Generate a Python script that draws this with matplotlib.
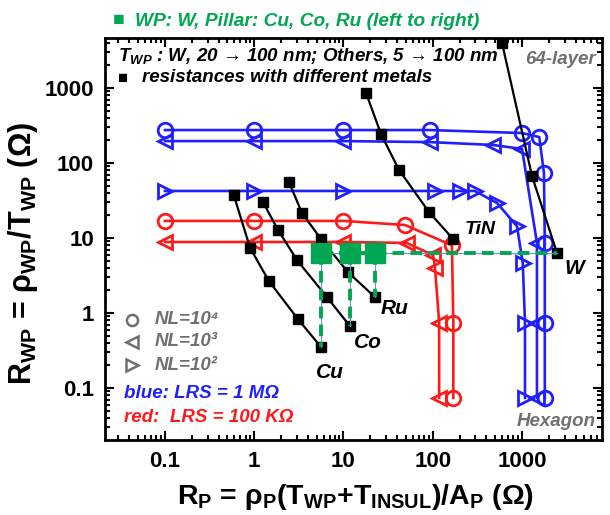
import matplotlib
matplotlib.use("Agg")
import matplotlib.pyplot as plt

plt.rcParams['font.family'] = ['Liberation Sans', 'DejaVu Sans']
plt.rcParams['mathtext.fontset'] = 'custom'
plt.rcParams['mathtext.rm'] = 'Liberation Sans:bold'
plt.rcParams['mathtext.it'] = 'Liberation Sans:bold:italic'
plt.rcParams['mathtext.bf'] = 'Liberation Sans:bold'

# ---------------- data ----------------
# black: R_WP vs R_P for different metals (T_WP sweep)
cu_x = [0.59, 0.90, 1.46, 3.09, 5.6]
cu_y = [37.4, 7.36, 2.67, 0.83, 0.352]
co_x = [1.25, 1.85, 3.01, 6.53, 11.8]
co_y = [30.2, 12.8, 5.09, 1.63, 0.67]
ru_x = [2.45, 3.43, 5.6, 11.2, 22.5]
ru_y = [55.8, 21.5, 9.7, 3.52, 1.63]
tin_x = [17.9, 26.3, 41.9, 90.8, 169]
tin_y = [858, 244, 80.7, 22.2, 9.7]
w_x = [597, 1294, 2466]
w_y = [3980, 67.1, 6.3]

# blue: LRS = 1 MOhm
b_nl4_x = [0.1, 1, 10, 93, 1000, 1560, 1760, 1800, 1800, 1800]
b_nl4_y = [275, 275, 275, 275, 251, 222, 74, 8.6, 0.74, 0.074]
b_nl3_x = [0.1, 1, 10, 93, 473, 1000, 1470, 1470, 1470]
b_nl3_y = [196, 196, 196, 190, 174, 154, 8.6, 0.74, 0.074]
b_nl2_x = [0.1, 1, 10, 106, 202, 296, 525, 880, 1020, 1080, 1080]
b_nl2_y = [42.4, 42.4, 42.4, 42.4, 42.4, 42.4, 29.3, 14.3, 4.6, 0.74, 0.074]

# red: LRS = 100 KOhm
r_nl4_x = [0.1, 1, 10, 49, 164, 170, 170]
r_nl4_y = [16.9, 16.9, 16.9, 14.9, 8.0, 0.74, 0.074]
r_nl3_x = [0.1, 1, 10, 51, 101, 106, 118, 118]
r_nl3_y = [8.85, 8.85, 8.85, 8.6, 5.9, 4.0, 0.74, 0.074]

# green: W wordplane with Cu, Co, Ru pillars
green_x = [cu_x[-1], co_x[-1], ru_x[-1]]
green_bottom = [cu_y[-1], co_y[-1], ru_y[-1]]
green_y = w_y[-1]

xticks = [0.1, 1, 10, 100, 1000]
xticklabels = ['0.1', '1', '10', '100', '1000']
yticks = [0.1, 1, 10, 100, 1000]
yticklabels = ['0.1', '1', '10', '100', '1000']

# ---------------- figure ----------------
W, H = 610, 515
fig = plt.figure(figsize=(W / 100, H / 100), dpi=100)
ax = fig.add_axes([105 / W, 1 - 440 / H, (602 - 105) / W, (440 - 38) / H])
ax.set_xscale('log')
ax.set_yscale('log')
ax.set_xlim(0.0213, 7870)
ax.set_ylim(0.0203, 4640)

BLUE = '#1f1fff'
RED = '#ff1a1a'
GREEN = '#00a651'
GRAY = '#707070'

def fx(p):
    return p / W

def fy(p):
    return 1 - p / H

ms = 10.5
mew = 2.0
lw = 1.9
series = [
    (b_nl4_x, b_nl4_y, BLUE, 'o'),
    (b_nl3_x, b_nl3_y, BLUE, '<'),
    (b_nl2_x, b_nl2_y, BLUE, '>'),
    (r_nl4_x, r_nl4_y, RED, 'o'),
    (r_nl3_x, r_nl3_y, RED, '<'),
]
for xs, ys, c, m in series:
    ax.plot(xs, ys, color=c, lw=lw, marker=m, ms=ms, mfc='none', mec=c, mew=mew, zorder=2)

for xs, ys in [(cu_x, cu_y), (co_x, co_y), (ru_x, ru_y), (tin_x, tin_y), (w_x, w_y)]:
    ax.plot(xs, ys, color='black', lw=1.6, marker='s', ms=7, mfc='black', mec='black', zorder=3)

# green dashed connections
ax.plot([green_x[0], w_x[-1]], [green_y, green_y], color='#7090d0', lw=0.8, zorder=4)
ax.plot([green_x[0], w_x[-1]], [green_y, green_y], color=GREEN, lw=2.8, ls=(0, (3, 1.6)), zorder=4)
for gx, gb in zip(green_x, green_bottom):
    ax.plot([gx, gx], [green_y, gb], color='#7090d0', lw=0.8, zorder=4)
    ax.plot([gx, gx], [green_y, gb], color=GREEN, lw=2.8, ls=(0, (3, 1.6)), zorder=4)
ax.plot(green_x, [green_y] * len(green_x), ls='none', marker='s', ms=15, color=GREEN, zorder=5)

# axes styling
for s in ax.spines.values():
    s.set_linewidth(2.0)
ax.tick_params(which='both', direction='in', top=True, right=True, width=1.5)
ax.tick_params(which='major', length=6.5, pad=8)
ax.tick_params(which='minor', length=3.5)
ax.set_xticks(xticks)
ax.set_xticklabels(xticklabels, fontsize=16, fontweight='bold')
ax.set_yticks(yticks)
ax.set_yticklabels(yticklabels, fontsize=16, fontweight='bold')

ax.set_xlabel(r'R$_\mathrm{P}$ = ρ$_\mathrm{P}$(T$_\mathrm{WP}$+T$_\mathrm{INSUL}$)/A$_\mathrm{P}$ (Ω)',
              fontsize=20.5, fontweight='bold')
ax.set_ylabel(r'R$_\mathrm{WP}$ = ρ$_\mathrm{WP}$/T$_\mathrm{WP}$ (Ω)', fontsize=22, fontweight='bold')
ax.xaxis.set_label_coords(0.505, -0.105)
ax.yaxis.set_label_coords(-0.13, 0.465)

# header text
fig.text(fx(113), fy(21), '■', color=GREEN, fontsize=14, va='center', ha='left')
fig.text(fx(135), fy(21), 'WP: W, Pillar: Cu, Co, Ru (left to right)', color=GREEN,
         fontsize=13.8, fontweight='bold', fontstyle='italic', va='center', ha='left')

it = dict(fontweight='bold', fontstyle='italic', va='center', ha='left')
fig.text(fx(118), fy(56), r'T$_{WP}$ : W, 20 → 100 nm; Others, 5 → 100 nm', color='black', fontsize=13.5, **it)
fig.text(fx(118), fy(78), '■', color='black', fontsize=12, va='center', ha='left')
fig.text(fx(142), fy(78), 'resistances with different metals', color='black', fontsize=13.5, **it)
fig.text(fx(525), fy(60), '64-layer', color=GRAY, fontsize=13.5, **it)
fig.text(fx(517), fy(421), 'Hexagon', color=GRAY, fontsize=13.5, **it)

# NL legend
for yy, m, lab in [(320, 'o', 'NL=10⁴'), (342, '<', 'NL=10³'), (365, '>', 'NL=10²')]:
    ax.plot([fx(132)], [fy(yy)], transform=fig.transFigure, marker=m, ms=8, mfc='none',
            mec=GRAY, mew=1.8, ls='none', clip_on=False)
    fig.text(fx(155), fy(yy), lab, color=GRAY, fontsize=13.5, **it)

fig.text(fx(124), fy(393), 'blue: LRS = 1 MΩ', color=BLUE, fontsize=13.5, **it)
fig.text(fx(124), fy(417), 'red:  LRS = 100 KΩ', color=RED, fontsize=13.5, **it)

# metal labels
fig.text(fx(465), fy(230), 'TiN', color='black', fontsize=14, **it)
fig.text(fx(564), fy(268), 'W', color='black', fontsize=15, **it)
fig.text(fx(381), fy(308), 'Ru', color='black', fontsize=15, **it)
fig.text(fx(354), fy(343), 'Co', color='black', fontsize=15, **it)
fig.text(fx(316), fy(373), 'Cu', color='black', fontsize=15, **it)

fig.savefig('out.png', dpi=100)
